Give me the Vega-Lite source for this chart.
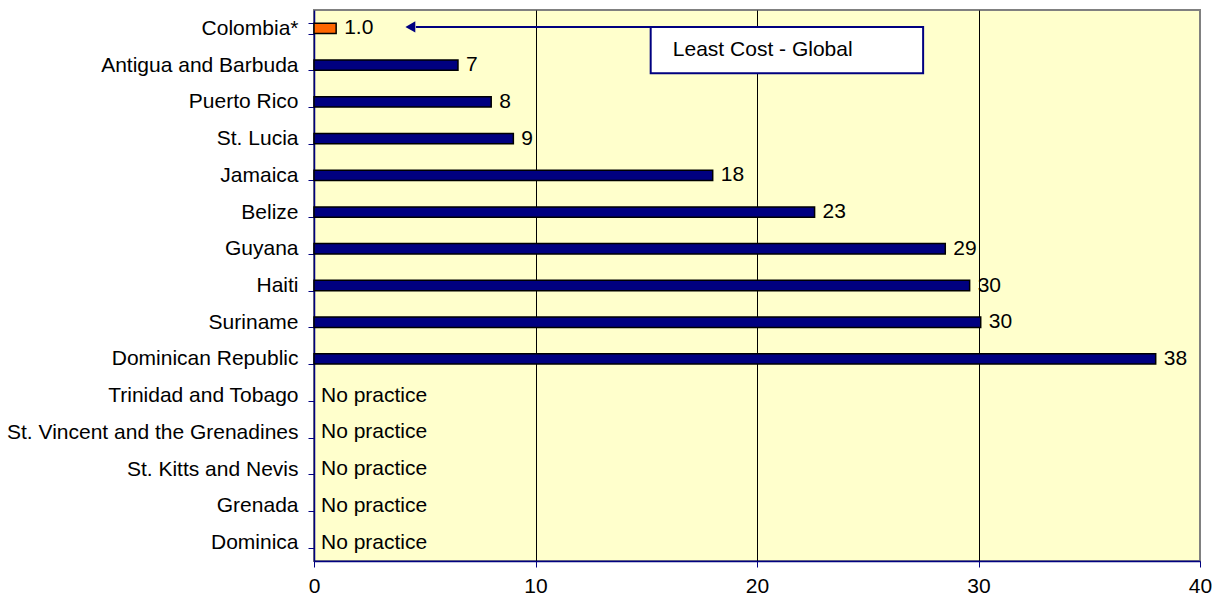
{
  "$schema": "https://vega.github.io/schema/vega-lite/v6.json",
  "width": 886,
  "height": 551,
  "autosize": {"type": "none"},
  "padding": {"left": 314, "top": 10, "right": 24, "bottom": 40},
  "background": "white",
  "config": {
    "font": "Liberation Sans",
    "view": {"fill": "#FFFFCC", "stroke": "#808080", "strokeWidth": 2}
  },
  "datasets": {
    "bars": [
      {"country": "Colombia*", "value": 1.0, "label": "1.0"},
      {"country": "Antigua and Barbuda", "value": 6.5, "label": "7"},
      {"country": "Puerto Rico", "value": 8.0, "label": "8"},
      {"country": "St. Lucia", "value": 9.0, "label": "9"},
      {"country": "Jamaica", "value": 18.0, "label": "18"},
      {"country": "Belize", "value": 22.6, "label": "23"},
      {"country": "Guyana", "value": 28.5, "label": "29"},
      {"country": "Haiti", "value": 29.6, "label": "30"},
      {"country": "Suriname", "value": 30.1, "label": "30"},
      {"country": "Dominican Republic", "value": 38.0, "label": "38"},
      {"country": "Trinidad and Tobago", "value": null, "label": "No practice"},
      {"country": "St. Vincent and the Grenadines", "value": null, "label": "No practice"},
      {"country": "St. Kitts and Nevis", "value": null, "label": "No practice"},
      {"country": "Grenada", "value": null, "label": "No practice"},
      {"country": "Dominica", "value": null, "label": "No practice"}
    ],
    "note": [
      {"bx": 15.2, "bx2": 27.5, "by": 0.46, "by2": 1.72, "ax": 17.7, "ax2": 4.6, "tipx": 4.35, "tx": 16.2, "ty": 1.09, "text": "Least Cost - Global"}
    ]
  },
  "resolve": {"scale": {"y": "independent"}},
  "layer": [
    {
      "data": {"name": "bars"},
      "layer": [
        {
          "mark": {"type": "bar", "stroke": "black", "strokeWidth": 1.5},
          "encoding": {
            "y": {
              "field": "country", "type": "nominal", "sort": null,
              "scale": {"paddingInner": 0.72, "paddingOuter": 0.36},
              "axis": {
                "title": null, "domainColor": "#000080", "domainWidth": 1.5,
                "tickColor": "#000080", "tickSize": 6, "tickBand": "extent",
                "labelFontSize": 21, "labelColor": "black", "labelPadding": 10,
                "labelLimit": 400, "grid": false
              }
            },
            "x": {
              "field": "value", "type": "quantitative",
              "scale": {"domain": [0, 40], "nice": false},
              "axis": {
                "title": null, "values": [0, 10, 20, 30, 40],
                "domainColor": "#000080", "domainWidth": 1.5,
                "tickColor": "#000080", "tickSize": 6,
                "labelFontSize": 21, "labelColor": "black", "labelPadding": 8,
                "labelFlush": false,
                "grid": true,
                "gridColor": {"condition": {"test": "datum.value === 0 || datum.value === 40", "value": "transparent"}, "value": "black"},
                "gridWidth": 1
              }
            },
            "color": {
              "condition": {"test": "datum.country === 'Colombia*'", "value": "#FF6600"},
              "value": "#000080"
            }
          }
        },
        {
          "mark": {"type": "text", "align": "left", "baseline": "middle", "dx": 8, "fontSize": 21, "color": "black"},
          "encoding": {
            "y": {"field": "country", "type": "nominal", "sort": null},
            "x": {"field": "value", "type": "quantitative"},
            "text": {"field": "label"}
          }
        },
        {
          "transform": [{"filter": "datum.value == null"}],
          "mark": {"type": "text", "align": "left", "baseline": "middle", "dx": 7, "fontSize": 21, "color": "black"},
          "encoding": {
            "y": {"field": "country", "type": "nominal", "sort": null},
            "x": {"datum": 0, "type": "quantitative"},
            "text": {"field": "label"}
          }
        }
      ]
    },
    {
      "data": {"name": "note"},
      "layer": [
        {
          "mark": {"type": "rule", "color": "#000080", "strokeWidth": 2},
          "encoding": {
            "x": {"field": "ax", "type": "quantitative"},
            "x2": {"field": "ax2"},
            "y": {"field": "by", "type": "quantitative", "scale": {"domain": [0, 15], "reverse": true, "nice": false, "zero": false}, "axis": null}
          }
        },
        {
          "mark": {"type": "point", "shape": "triangle-left", "filled": true, "color": "#000080", "size": 130, "opacity": 1},
          "encoding": {
            "x": {"field": "tipx", "type": "quantitative"},
            "y": {"field": "by", "type": "quantitative", "scale": {"domain": [0, 15], "reverse": true, "nice": false, "zero": false}, "axis": null}
          }
        },
        {
          "mark": {"type": "rect", "fill": "white", "stroke": "#000080", "strokeWidth": 2},
          "encoding": {
            "x": {"field": "bx", "type": "quantitative"},
            "x2": {"field": "bx2"},
            "y": {"field": "by", "type": "quantitative", "scale": {"domain": [0, 15], "reverse": true, "nice": false, "zero": false}, "axis": null},
            "y2": {"field": "by2"}
          }
        },
        {
          "mark": {"type": "text", "align": "left", "baseline": "middle", "fontSize": 21, "color": "black"},
          "encoding": {
            "x": {"field": "tx", "type": "quantitative"},
            "y": {"field": "ty", "type": "quantitative", "scale": {"domain": [0, 15], "reverse": true, "nice": false, "zero": false}, "axis": null},
            "text": {"field": "text"}
          }
        }
      ]
    }
  ]
}
